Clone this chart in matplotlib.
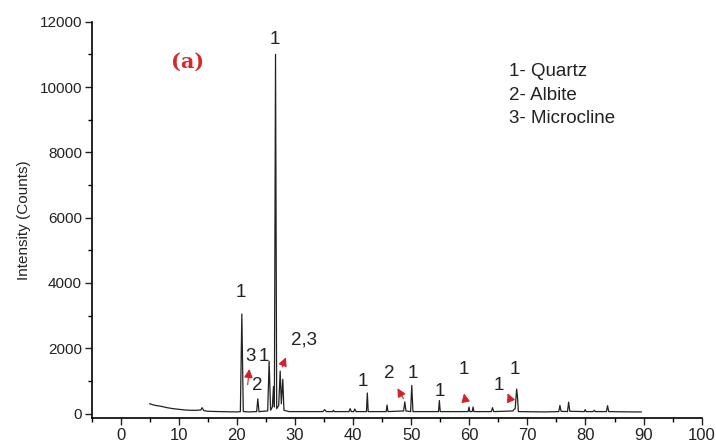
import matplotlib
matplotlib.use('Agg')
import matplotlib.pyplot as plt
from matplotlib.ticker import MultipleLocator

plt.rcParams['font.family'] = ['Liberation Sans', 'DejaVu Sans']

# XRD pattern (2-theta, counts)
two_theta = [5.0, 5.5, 6.0, 7.0, 8.0, 9.0, 10.0, 11.0, 12.0, 13.0, 13.8, 14.0, 14.3, 15.0, 17.0,
             20.0, 20.6, 20.85, 21.1, 22.0, 23.4, 23.6, 23.8, 25.3, 25.55, 25.8, 26.1, 26.3, 26.45,
             26.65, 26.85, 27.2, 27.45, 27.65, 27.9, 28.1, 29.0, 34.8, 35.1, 35.4, 36.5, 36.6, 36.8,
             39.3, 39.5, 39.7, 40.1, 40.3, 40.5, 42.3, 42.45, 42.6, 45.7, 45.85, 46.0, 48.7, 48.9,
             49.1, 49.9, 50.1, 50.3, 54.7, 54.85, 55.0, 59.8, 59.95, 60.1, 60.5, 60.65, 60.8, 63.8,
             64.0, 64.2, 67.5, 67.7, 67.9, 68.15, 68.3, 68.45, 73.0, 75.4, 75.6, 75.8, 76.9, 77.1,
             77.3, 79.8, 79.95, 80.1, 81.3, 81.5, 81.7, 83.6, 83.8, 84.0, 88.0, 89.6]
counts = [300, 270, 250, 220, 180, 150, 130, 110, 100, 100, 110, 180, 90, 70, 60,
          50, 60, 3050, 60, 50, 60, 450, 60, 80, 1600, 100, 200, 830, 200,
          11000, 150, 250, 1300, 300, 1050, 100, 60, 60, 120, 60, 60, 100, 60,
          60, 150, 60, 60, 140, 60, 60, 630, 60, 60, 260, 60, 80, 360,
          80, 60, 860, 60, 60, 400, 60, 60, 200, 60, 60, 200, 60, 60,
          180, 60, 80, 130, 150, 750, 500, 60, 50, 60, 250, 70, 60, 350,
          70, 60, 120, 60, 60, 100, 60, 60, 240, 60, 50, 50]

# peak labels: text, x, y
label_txt = ['1', '1', '3', '1', '2', '2,3', '1', '2', '1', '1', '1', '1', '1']
label_x = [26.6, 20.6, 22.3, 24.6, 23.5, 31.6, 41.7, 46.2, 50.3, 54.9, 59.0, 65.0, 67.9]
label_y = [11450, 3700, 1750, 1750, 850, 2250, 980, 1230, 1230, 670, 1350, 860, 1350]

# red arrows: tail (x, y) -> head (x, y)
arrow_tail = [(21.8, 800), (27.6, 1350), (48.9, 380), (59.4, 330), (67.3, 330)]
arrow_head = [(22.2, 1450), (28.6, 1800), (47.4, 850), (59.0, 700), (66.4, 700)]

phases = ['1- Quartz', '2- Albite', '3- Microcline']

fig = plt.figure(figsize=(7.16, 4.44), dpi=100)
ax = fig.add_axes([0.128, 0.059, 0.852, 0.892])
ax.plot(two_theta, counts, color='#222222', lw=0.9)

ax.set_xlim(-5, 100)
ax.set_ylim(-130, 12000)
ax.xaxis.set_major_locator(MultipleLocator(10))
ax.xaxis.set_minor_locator(MultipleLocator(5))
ax.yaxis.set_major_locator(MultipleLocator(2000))
ax.yaxis.set_minor_locator(MultipleLocator(1000))
ax.tick_params(which='major', direction='out', length=5, width=1,
               colors='#222222', pad=2)
ax.tick_params(which='minor', direction='out', length=3, width=1)
ax.tick_params(axis='x', labelsize=12)
ax.tick_params(axis='y', labelsize=11)
for s in ['top', 'right']:
    ax.spines[s].set_visible(False)
for s in ['left', 'bottom']:
    ax.spines[s].set_linewidth(1.2)
ax.set_ylabel('Intensity (Counts)', fontsize=11, color='#222222', labelpad=6)

for t, x, y in zip(label_txt, label_x, label_y):
    ax.text(x, y, t, fontsize=13.5, ha='center', va='center', color='#222222')

for (x0, y0), (x1, y1) in zip(arrow_tail, arrow_head):
    ax.annotate('', xy=(x1, y1), xytext=(x0, y0),
                arrowprops=dict(arrowstyle='-|>', color='#d0202a', lw=0.8, mutation_scale=13))

ax.text(11.5, 10770, '(a)', fontsize=15, fontweight='bold', family='DejaVu Serif',
        color='#d42a2a', ha='center', va='center')

for i, p in enumerate(phases):
    ax.text(66.8, 10470 - i * 720, p, fontsize=13.5, ha='left', va='center', color='#222222')

fig.savefig('out.png', dpi=100)
